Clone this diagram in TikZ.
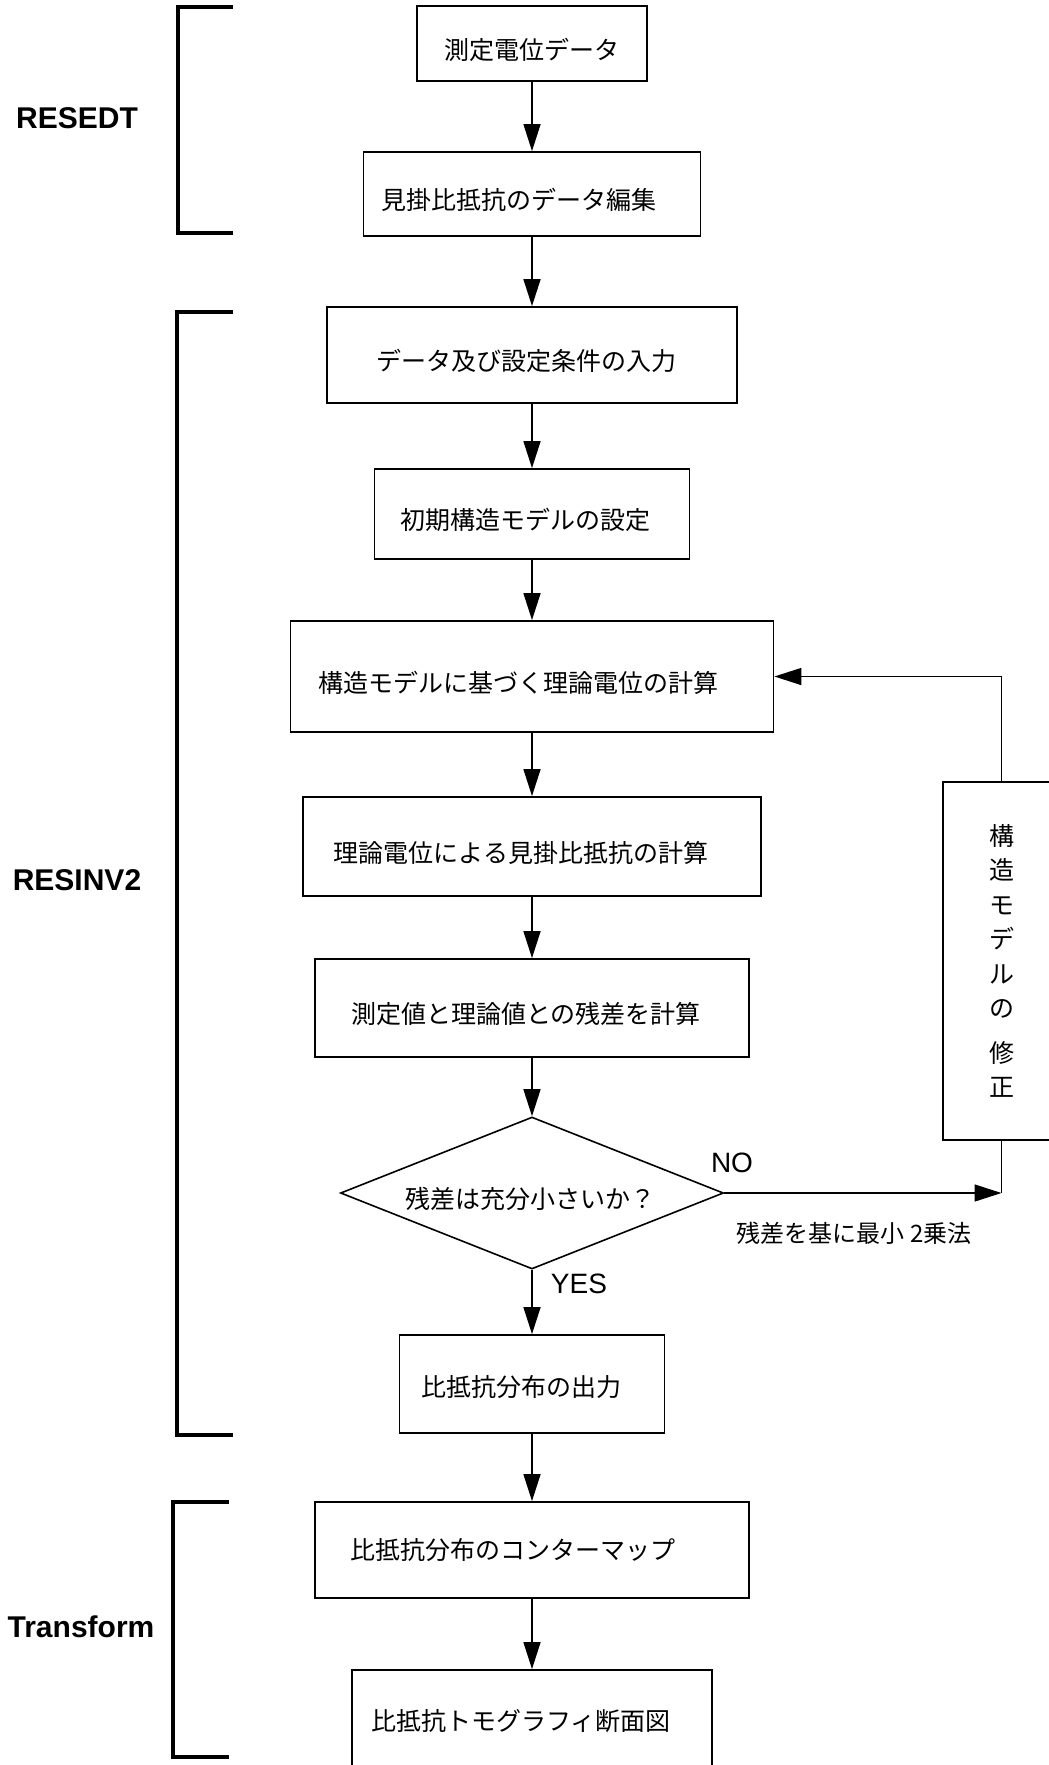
\documentclass[tikz,border=0pt]{standalone}
\usepackage{fontspec}
\setmainfont{Liberation Sans}
\newfontfamily\jp{Noto Sans CJK JP}
\usetikzlibrary{arrows.meta,shapes.geometric}
\newcommand\shx[2]{\hspace*{#1pt}#2}
\begin{document}
\begin{tikzpicture}[x=1pt,y=-1pt,
  box/.style={draw, line width=1.8pt, rectangle, inner sep=0pt,
    font=\jp\fontsize{25}{30}\selectfont, text height=31pt, text depth=0pt},
  dia/.style={draw, line width=1.6pt, diamond, aspect=2.52, inner sep=0pt,
    minimum width=383pt, minimum height=152pt,
    font=\jp\fontsize{25}{30}\selectfont, text height=31pt, text depth=0pt},
  vbox/.style={draw, line width=1.8pt, rectangle, inner sep=0pt, align=center,
    font=\jp\fontsize{25}{34.5}\selectfont},
  arr/.style={line width=1.5pt, -{Triangle[length=27pt,width=17pt]}},
  ln/.style={line width=1.5pt},
  brk/.style={line width=4pt},
  grp/.style={font=\bfseries\fontsize{30}{36}\selectfont},
  yn/.style={font=\fontsize{28}{32}\selectfont},
  note/.style={font=\jp\fontsize{24}{28}\selectfont}
]
\useasboundingbox (0,0) rectangle (1049,1765);

% boxes
\node[box, minimum width=230pt, minimum height=75pt] (b1) at (532,43.5) {測定電位データ};
\node[box, minimum width=337pt, minimum height=84pt] (b2) at (532,194) {\shx{-26}{見掛比抵抗のデータ編集}};
\node[box, minimum width=410pt, minimum height=96pt] (b3) at (532,355) {\shx{-12}{データ及び設定条件の入力}};
\node[box, minimum width=315pt, minimum height=90pt] (b4) at (532,514) {\shx{-14}{初期構造モデルの設定}};
\node[box, minimum width=483pt, minimum height=111pt] (b5) at (532,676.5) {\shx{-28}{構造モデルに基づく理論電位の計算}};
\node[box, minimum width=458pt, minimum height=99pt] (b6) at (532,846.5) {\shx{-22}{理論電位による見掛比抵抗の計算}};
\node[box, minimum width=434pt, minimum height=98pt] (b7) at (532,1008) {\shx{-12}{測定値と理論値との残差を計算}};
\node[dia] (d) at (532,1193) {\shx{-4}{残差は充分小さいか？}};
\node[box, minimum width=265pt, minimum height=98pt, text height=25pt] (b8) at (532,1384) {\shx{-22}{比抵抗分布の出力}};
\node[box, minimum width=434pt, minimum height=96pt, text height=19pt] (b9) at (532,1550) {\shx{-38}{比抵抗分布のコンターマップ}};
\node[box, minimum width=360pt, minimum height=102pt, text height=19pt] (b10) at (532,1721) {\shx{-22}{比抵抗トモグラフィ断面図}};

% correction box (right edge runs off the page)
\node[vbox, minimum width=117pt, minimum height=358pt] (rb) at (1001.5,961)
  {構\\造\\モ\\デ\\ル\\の\\[10pt]修\\正};

% main flow
\draw[arr] (b1.south) -- (b2.north);
\draw[arr] (b2.south) -- (b3.north);
\draw[arr] (b3.south) -- (b4.north);
\draw[arr] (b4.south) -- (b5.north);
\draw[arr] (b5.south) -- (b6.north);
\draw[arr] (b6.south) -- (b7.north);
\draw[arr] (b7.south) -- (d.north);
\draw[arr] (d.south) -- (b8.north);
\draw[arr] (b8.south) -- (b9.north);
\draw[arr] (b9.south) -- (b10.north);

% loop
\coordinate (nc) at (rb.south |- d.east);
\draw[arr] (d.east) -- (nc);
\draw[ln] (rb.south) -- (nc);
\draw[arr] (rb.north) |- (b5.east);

% labels
\node[yn] (no) at (732,1163) {NO};
\node[yn] (yes) at (579,1284) {YES};
\node[note] (ls) at (854,1233) {残差を基に最小 2乗法};

% brackets
\draw[brk] (233,7) -| (178,233) -- (233,233);
\draw[brk] (233,312) -| (177,1435) -- (233,1435);
\draw[brk] (229,1502) -| (173,1757) -- (229,1757);

\node[grp] (g1) at (77,118) {RESEDT};
\node[grp] (g2) at (77,880) {RESINV2};
\node[grp] (g3) at (81,1627) {Transform};
\end{tikzpicture}
\end{document}
